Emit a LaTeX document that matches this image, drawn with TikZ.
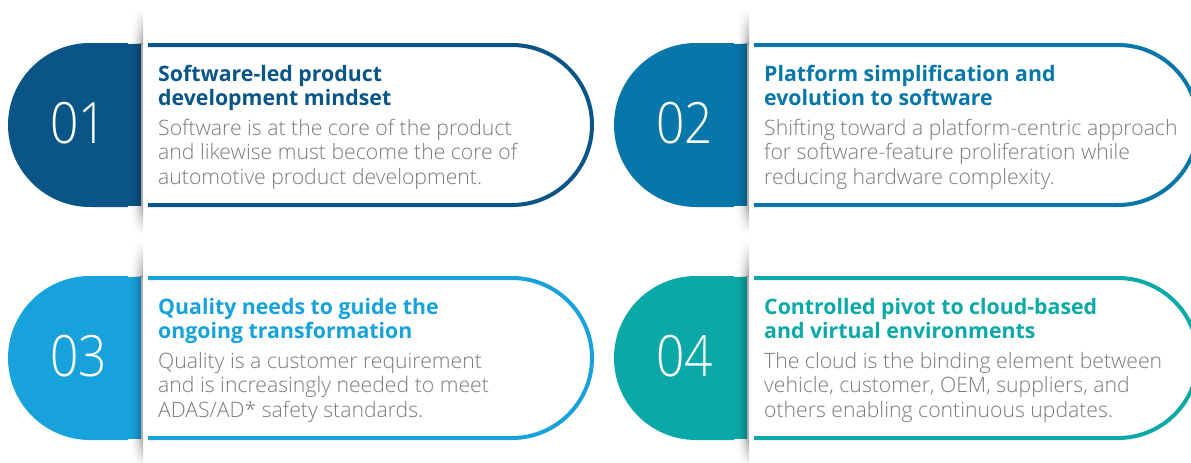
\documentclass[tikz,border=0pt]{standalone}
\usepackage{fontspec}
\setmainfont{Open Sans}
\IfFontExistsTF{Open Sans Light}{\newfontfamily\lightfont{Open Sans Light}}{\newfontfamily\lightfont{Open Sans}}
\definecolor{cA}{HTML}{0A5588}
\definecolor{cB}{HTML}{0776A8}
\definecolor{cC}{HTML}{17A2DC}
\definecolor{cD}{HTML}{0AA9A7}
\definecolor{bodygray}{HTML}{7A7A7A}
\tikzset{
  numtext/.style={inner sep=0pt, anchor=base, text=white, font=\lightfont\fontsize{57}{57}\selectfont},
  titletext/.style={inner sep=0pt, anchor=base west, font=\bfseries\fontsize{21.3}{25}\selectfont},
  bodytext/.style={inner sep=0pt, anchor=base west, text=bodygray, font=\lightfont\fontsize{21.2}{25}\selectfont},
  outline/.style={line width=4pt},
}
% #1 name, #2 dx, #3 dy, #4 colour, #5 number
\newcommand\panelshape[5]{%
  \begin{scope}[shift={(#2,#3)}]
    \fill[#4] (141,43) -- (90,43) arc[start angle=270, end angle=90, radius=82] -- (141,207) -- cycle;
    \foreach \i in {0,...,14}{%
      \pgfmathsetmacro\pc{32*(\i/14)^2}
      \pgfmathsetmacro\op{0.32*(\i/14)^2}
      \shade[top color=white, bottom color=black!\pc] (128+\i,8) rectangle (129.05+\i,43.3);
      \fill[black, opacity=\op] (128+\i,43) rectangle (129.05+\i,207);
      \shade[top color=black!\pc, bottom color=white] (128+\i,206.7) rectangle (129.05+\i,234);
    }
    \draw[#4, outline] (148,45) -- (512,45) arc[start angle=270, end angle=450, radius=80] -- (148,205);
    \node[numtext] (#1num) at (78.5,143) {\scalebox{0.87}[1]{#5}};
  \end{scope}}
% #1 name, #2 dx, #3 dy, #4 colour, #5 #6 title lines, #7 #8 #9 body lines
\newcommand\paneltext[9]{%
  \begin{scope}[shift={(#2,#3)}]
    \node[titletext, text=#4] (#1ta) at (158,81.5) {#5};
    \node[titletext, text=#4] (#1tb) at (158,105.5) {#6};
    \node[bodytext] (#1ba) at (158,135) {#7};
    \node[bodytext] (#1bb) at (158,159.5) {#8};
    \node[bodytext] (#1bc) at (158,184) {#9};
  \end{scope}}
\begin{document}
\begin{tikzpicture}[x=1pt,y=-1pt]
\useasboundingbox (0,0) rectangle (1191,463);
\clip (0,0) rectangle (1191,463);
\panelshape{p1}{0}{0}{cA}{01}
\panelshape{p2}{606}{0}{cB}{02}
\panelshape{p3}{0}{233}{cC}{03}
\panelshape{p4}{606}{233}{cD}{04}
\paneltext{p1}{0}{0}{cA}{Software-led product}{development mindset}{Software is at the core of the product}{and likewise must become the core of}{automotive product development.}
\paneltext{p2}{606}{0}{cB}{Platform simplification and}{evolution to software}{Shifting toward a platform-centric approach}{for software-feature proliferation while}{reducing hardware complexity.}
\paneltext{p3}{0}{233}{cC}{Quality needs to guide the}{ongoing transformation}{Quality is a customer requirement}{and is increasingly needed to meet}{ADAS/AD* safety standards.}
\paneltext{p4}{606}{233}{cD}{Controlled pivot to cloud-based}{and virtual environments}{The cloud is the binding element between}{vehicle, customer, OEM, suppliers, and}{others enabling continuous updates.}
\end{tikzpicture}
\end{document}
